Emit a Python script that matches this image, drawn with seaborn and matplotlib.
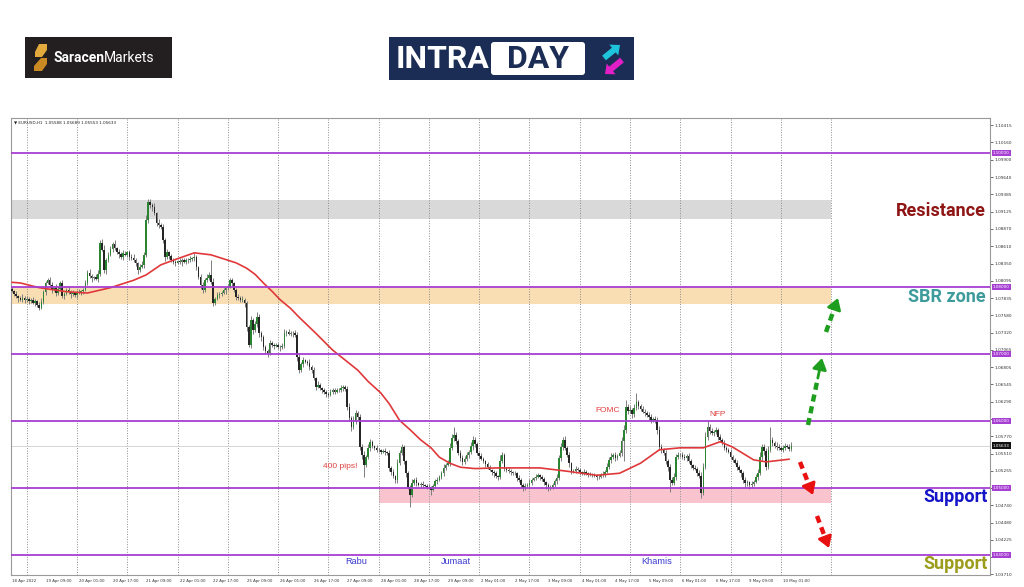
import numpy as np
import pandas as pd
import matplotlib
matplotlib.use("Agg")
import matplotlib.pyplot as plt
import seaborn as sns
from matplotlib.patches import Rectangle, Polygon, FancyBboxPatch, FancyArrow


# -----------------------------
# Data: EURUSD H1, first bar 18 Apr 2022 17:00
# prices in pips above 1.0000 (794 -> 1.0794)
# -----------------------------
FIRST_OPEN = 797

CLOSE_ROWS = [
    [794, 790, 786, 783, 781, 784, 780, 782, 779, 781, 776, 779, 773, 769, 778, 792, 806, 810, 803, 796, 799, 791, 797, 806],
    [786, 790, 796, 792, 789, 791, 788, 793, 791, 794, 796, 806, 821, 817, 813, 815, 812, 820, 866, 855, 825, 840, 848, 856],
    [864, 858, 852, 849, 845, 850, 848, 852, 845, 843, 840, 836, 825, 830, 833, 848, 900, 927, 922, 919, 910, 896, 892, 890],
    [870, 845, 852, 846, 840, 838, 836, 839, 837, 840, 838, 841, 840, 842, 843, 845, 830, 815, 803, 795, 810, 814, 818, 808],
    [776, 782, 788, 790, 791, 795, 798, 800, 810, 806, 796, 785, 783, 781, 781, 776, 740, 713, 751, 736, 745, 755, 731, 725],
    [710, 705, 701, 716, 714, 712, 713, 711, 710, 712, 731, 733, 730, 732, 731, 729, 696, 676, 685, 691, 688, 687, 680, 676],
    [664, 651, 654, 649, 646, 643, 641, 639, 643, 646, 644, 647, 646, 649, 651, 648, 621, 605, 591, 600, 612, 606, 561, 550],
    [535, 546, 560, 569, 562, 560, 557, 556, 554, 555, 553, 552, 530, 524, 518, 512, 537, 552, 561, 540, 522, 501, 490, 508],
    [512, 507, 505, 506, 504, 503, 502, 501, 497, 503, 510, 512, 516, 522, 530, 535, 537, 560, 575, 579, 570, 552, 545, 539],
    [543, 549, 554, 562, 572, 565, 552, 548, 544, 540, 536, 531, 527, 524, 522, 518, 516, 540, 549, 530, 527, 525, 524, 523],
    [522, 515, 512, 505, 500, 503, 504, 508, 512, 515, 517, 519, 516, 513, 509, 504, 502, 501, 504, 510, 515, 545, 561, 572],
    [560, 550, 537, 524, 526, 529, 527, 524, 522, 524, 522, 520, 521, 519, 518, 516, 517, 519, 521, 524, 532, 542, 547, 549],
    [545, 548, 552, 570, 587, 621, 615, 616, 610, 620, 628, 622, 618, 614, 612, 609, 606, 601, 603, 601, 587, 561, 556, 552],
    [540, 531, 512, 508, 516, 546, 549, 549, 547, 545, 548, 541, 534, 530, 529, 522, 518, 493, 531, 576, 591, 585, 582, 584],
    [587, 576, 572, 567, 560, 557, 554, 547, 542, 538, 531, 527, 522, 512, 508, 509, 504, 506, 509, 516, 522, 546, 561, 555],
    [531, 557, 572, 567, 563, 561, 559, 557, 560, 562, 561, 558.8, 563.3],
]

# wick lengths in pips above / below the candle body
UP_WICK_ROWS = [
    [3, 2, 4, 2, 3, 5, 2, 4, 3, 2, 4, 3, 2, 5, 6, 4, 3, 3, 5, 4, 3, 6, 4, 3],
    [4, 3, 2, 5, 3, 4, 2, 3, 4, 2, 3, 5, 4, 6, 3, 2, 4, 5, 4, 6, 7, 3, 4, 5],
    [3, 6, 2, 4, 3, 5, 4, 2, 3, 4, 6, 3, 2, 5, 6, 4, 7, 5, 4, 3, 6, 2, 5, 3],
    [4, 3, 5, 2, 3, 4, 3, 2, 5, 3, 4, 2, 3, 4, 2, 6, 3, 2, 5, 4, 3, 5, 4, 22],
    [5, 3, 4, 2, 3, 4, 2, 5, 3, 4, 2, 3, 4, 3, 5, 2, 3, 4, 6, 3, 5, 7, 4, 3],
    [3, 4, 2, 5, 3, 2, 4, 3, 2, 5, 6, 3, 4, 2, 3, 5, 4, 6, 3, 4, 2, 3, 5, 3],
    [4, 2, 5, 3, 2, 4, 3, 2, 5, 3, 4, 2, 3, 5, 2, 3, 4, 6, 3, 7, 4, 3, 5, 4],
    [5, 3, 6, 4, 3, 2, 4, 3, 2, 3, 4, 2, 5, 3, 4, 2, 6, 5, 4, 3, 2, 4, 3, 5],
    [3, 4, 2, 3, 5, 2, 3, 4, 2, 3, 4, 5, 3, 4, 6, 3, 5, 7, 6, 12, 4, 3, 5, 4],
    [5, 4, 3, 6, 5, 4, 3, 2, 4, 3, 2, 3, 4, 2, 3, 4, 2, 9, 4, 3, 2, 4, 3, 2],
    [3, 2, 4, 3, 2, 4, 3, 5, 3, 2, 4, 3, 2, 3, 4, 2, 3, 2, 4, 3, 6, 5, 6, 4],
    [5, 3, 4, 2, 3, 4, 2, 3, 2, 4, 3, 2, 3, 2, 4, 3, 2, 3, 4, 3, 5, 4, 5, 3],
    [4, 3, 5, 6, 7, 10, 5, 6, 4, 5, 14, 4, 3, 5, 4, 3, 4, 5, 3, 4, 5, 6, 4, 3],
    [4, 3, 5, 4, 6, 5, 4, 3, 5, 4, 3, 4, 3, 2, 4, 3, 5, 6, 7, 8, 10, 5, 4, 3],
    [4, 3, 5, 3, 4, 2, 3, 4, 2, 3, 4, 3, 2, 3, 4, 3, 2, 4, 3, 5, 6, 7, 5, 4],
    [5, 6, 19, 4, 3, 5, 4, 3, 4, 5, 3, 4, 5.6],
]
DN_WICK_ROWS = [
    [2, 4, 3, 5, 2, 3, 4, 2, 5, 3, 2, 4, 3, 3, 2, 3, 4, 2, 3, 5, 2, 4, 3, 2],
    [3, 4, 2, 3, 5, 2, 3, 4, 2, 3, 5, 2, 3, 4, 5, 3, 2, 4, 3, 2, 4, 5, 3, 2],
    [4, 3, 2, 5, 3, 4, 2, 3, 5, 2, 3, 4, 6, 3, 2, 4, 3, 5, 4, 6, 3, 5, 4, 3],
    [5, 6, 3, 4, 2, 3, 4, 2, 3, 5, 2, 3, 4, 2, 3, 4, 5, 3, 6, 4, 3, 2, 4, 3],
    [4, 3, 2, 4, 3, 2, 5, 3, 2, 4, 3, 5, 2, 3, 4, 6, 5, 3, 4, 6, 3, 4, 5, 6],
    [4, 3, 5, 2, 3, 4, 2, 3, 5, 2, 3, 4, 2, 3, 5, 4, 6, 5, 3, 4, 2, 3, 4, 5],
    [3, 4, 2, 3, 4, 2, 5, 3, 2, 3, 4, 2, 3, 2, 4, 3, 5, 4, 6, 3, 4, 5, 4, 6],
    [19, 4, 3, 5, 2, 3, 4, 2, 3, 2, 4, 3, 5, 4, 3, 5, 4, 3, 2, 4, 5, 3, 18, 4],
    [3, 4, 2, 5, 3, 2, 4, 3, 7, 2, 3, 4, 2, 3, 4, 3, 2, 4, 3, 5, 4, 3, 5, 4],
    [3, 2, 4, 3, 5, 4, 3, 5, 2, 3, 4, 3, 2, 4, 5, 3, 4, 2, 3, 4, 3, 2, 4, 3],
    [2, 4, 3, 5, 4, 3, 2, 4, 3, 2, 3, 2, 4, 3, 4, 5, 6, 4, 3, 2, 4, 3, 4, 5],
    [3, 4, 5, 3, 2, 3, 2, 4, 3, 2, 3, 4, 2, 3, 2, 4, 3, 2, 3, 4, 2, 3, 4, 3],
    [4, 3, 2, 4, 30, 5, 4, 3, 5, 4, 3, 4, 3, 2, 4, 3, 5, 4, 3, 4, 6, 5, 4, 3],
    [4, 5, 18, 4, 3, 4, 3, 2, 4, 3, 4, 3, 4, 3, 2, 4, 3, 8, 4, 3, 4, 5, 3, 4],
    [3, 4, 2, 3, 4, 3, 2, 4, 3, 2, 4, 3, 5, 4, 7, 5, 6, 4, 3, 2, 4, 3, 4, 6],
    [4, 3, 4, 5, 3, 4, 3, 2, 4, 3, 2, 3, 3.5],
]

# moving average (bar index, pips)
MA_BARS = [0, 4, 13, 26, 36, 47, 58, 64, 71, 77, 87, 95, 103, 107, 112, 116, 120, 124, 128,
           133, 137, 145, 153, 159, 165, 170, 176, 180, 185, 190, 195, 200, 204, 209, 214,
           221, 232, 252, 265, 279, 290, 300, 309, 319, 330, 338, 344, 354, 360, 371]
MA_PIPS = [807, 806, 799, 793, 791, 799, 810, 818, 833, 840, 851, 848, 840, 836, 828, 819, 806, 794, 781,
           768, 755, 731, 706, 691, 676, 659, 642, 626, 601, 587, 572, 560, 546, 537, 531,
           529, 530, 530, 525, 519, 522, 537, 557, 560, 560, 569, 561, 542, 539, 543]

X_LABELS = ["18 Apr 2022", "19 Apr 09:00", "20 Apr 01:00", "20 Apr 17:00", "21 Apr 09:00",
            "22 Apr 01:00", "22 Apr 17:00", "25 Apr 09:00", "26 Apr 01:00", "26 Apr 17:00",
            "27 Apr 09:00", "28 Apr 01:00", "28 Apr 17:00", "29 Apr 09:00", "2 May 01:00",
            "2 May 17:00", "3 May 09:00", "4 May 01:00", "4 May 17:00", "5 May 09:00",
            "6 May 01:00", "6 May 17:00", "9 May 09:00", "10 May 01:00"]
LABEL_STEP = 16          # bars between time labels
FIRST_DAY_BAR = 7        # 19 Apr 00:00
N_DAY_LINES = 17

Y_TICKS = [1.10415, 1.10160, 1.09900, 1.09640, 1.09385, 1.09125, 1.08870, 1.08610, 1.08350,
           1.08095, 1.07835, 1.07580, 1.07320, 1.07065, 1.06805, 1.06545, 1.06290, 1.06030,
           1.05770, 1.05510, 1.05255, 1.04995, 1.04740, 1.04480, 1.04225, 1.03965, 1.03710]

LEVELS = [1.10, 1.08, 1.07, 1.06, 1.05, 1.04]
ZONE_LO = [1.0902, 1.0775, 1.0478]
ZONE_HI = [1.0930, 1.0800, 1.0500]
ZONE_START = [None, None, 175]   # None = from left edge
ZONE_COLORS = ["#d9d9d9", "#f8deb2", "#fac4cf"]

HEADER = "EURUSD,H1  1.05588 1.05689 1.05553 1.05633"


# -----------------------------
# Pixel helpers (chart scale of the screenshot)
# -----------------------------
W, H = 1024, 587
AX_L, AX_R, AX_T, AX_B = 11, 990, 118, 575
PX_PER_BAR = 2.095


def bar_at(px):
    return (px - 12) / PX_PER_BAR


def price_at(py):
    return 1.10 - (py - 153) / 6700


# -----------------------------
# Build OHLC
# -----------------------------
close = 1 + np.concatenate(CLOSE_ROWS) / 10000
up = np.concatenate(UP_WICK_ROWS) / 10000
dn = np.concatenate(DN_WICK_ROWS) / 10000
n = min(len(close), len(up), len(dn))
close, up, dn = close[:n], up[:n], dn[:n]

df = pd.DataFrame({"bar": np.arange(n), "close": close})
df["open"] = np.r_[1 + FIRST_OPEN / 10000, close[:-1]]
df["high"] = np.maximum(df["open"], df["close"]) + up
df["low"] = np.minimum(df["open"], df["close"]) - dn
df["bull"] = df["close"] >= df["open"]

ma = pd.DataFrame({"bar": MA_BARS, "price": 1 + np.array(MA_PIPS) / 10000})

# -----------------------------
# Figure
# -----------------------------
sns.set_theme(style="white")
plt.rcParams["font.family"] = ["DejaVu Sans"]

fig = plt.figure(figsize=(W / 100, H / 100), dpi=100)
fig.patch.set_facecolor("white")
ax = fig.add_axes([AX_L / W, 1 - AX_B / H, (AX_R - AX_L) / W, (AX_B - AX_T) / H])
x_left, x_right = bar_at(AX_L), bar_at(AX_R)
ax.set_xlim(x_left, x_right)
ax.set_ylim(price_at(AX_B), price_at(AX_T))
ax.set_facecolor("white")
ax.grid(False)

grid_end = FIRST_DAY_BAR + 24 * (N_DAY_LINES - 1)

# zones
for lo, hi, start, col in zip(ZONE_LO, ZONE_HI, ZONE_START, ZONE_COLORS):
    x0 = x_left if start is None else start
    ax.fill_between([x0, grid_end], lo, hi, color=col, lw=0, zorder=1)

# day separators
for k in range(N_DAY_LINES):
    ax.axvline(FIRST_DAY_BAR + 24 * k, color="#8c8c8c", lw=0.7, ls=(0, (1, 1.6)), zorder=1.5)

# current price line
ax.axhline(df["close"].iloc[-1], color="#cfcfcf", lw=0.6, zorder=1.6)

# candles
ax.vlines(df["bar"], df["low"], df["high"], color="#7d7d7d", lw=0.7, zorder=3)
body_lo = np.minimum(df["open"], df["close"])
body_h = np.maximum((df["close"] - df["open"]).abs(), 0.00004)
ax.bar(df["bar"], body_h, bottom=body_lo, width=0.75, lw=0,
       color=np.where(df["bull"], "#2a8431", "#262626"), zorder=3.5)

# moving average
sns.lineplot(data=ma, x="bar", y="price", ax=ax, color="#e0383a", lw=1.2, zorder=4)

# round-number levels
for lv in LEVELS:
    ax.axhline(lv, color="#a63fd2", lw=1.3, zorder=4.5)

# axes styling
for s in ax.spines.values():
    s.set_color("#9a9a9a")
    s.set_linewidth(0.8)
ax.set_xlabel("")
ax.set_ylabel("")
ax.yaxis.tick_right()
ax.set_yticks(Y_TICKS)
# the level tags sit on top of some scale labels, as in the terminal
hidden = [min(abs(v - lv) for lv in LEVELS) < 0.0004 and v not in (1.08095, 1.07065) for v in Y_TICKS]
ax.set_yticklabels(["" if h else f"{v:.5f}" for v, h in zip(Y_TICKS, hidden)])
ax.tick_params(axis="y", labelsize=3.1, length=2, width=0.5, pad=1.5, colors="#333333")
ax.set_xticks([k * LABEL_STEP for k in range(len(X_LABELS))])
ax.set_xticklabels(X_LABELS)
for lbl in ax.get_xticklabels():
    lbl.set_ha("left")
ax.tick_params(axis="x", labelsize=2.8, length=2, width=0.5, pad=1.2, colors="#333333")

# price tags on the axis
ytr = ax.get_yaxis_transform()
for lv in LEVELS:
    ax.text(1.003, lv, f"{lv:.5f}", transform=ytr, fontsize=3, color="white", va="center", ha="left",
            bbox=dict(boxstyle="square,pad=0.3", fc="#a63fd2", ec="none"), zorder=7, clip_on=False)
ax.text(1.003, df["close"].iloc[-1], f"{df['close'].iloc[-1]:.5f}", transform=ytr, fontsize=3,
        color="white", va="center", ha="left",
        bbox=dict(boxstyle="square,pad=0.3", fc="#111111", ec="none"), zorder=7, clip_on=False)

# header
ax.text((14 - AX_L) / (AX_R - AX_L), (AX_B - 123) / (AX_B - AX_T), "\u25bc " + HEADER,
        transform=ax.transAxes, fontsize=3, color="#222222", va="center", ha="left")

# labels on the chart
big = dict(family="Roboto", fontweight="bold", fontsize=13, ha="right", va="center", zorder=8)
ax.text(bar_at(986), price_at(211), "Resistance", color="#8f1414", **big)
ax.text(bar_at(986), price_at(297), "SBR zone", color="#3e9b9b", **big)
ax.text(bar_at(988), price_at(497), "Support", color="#1414c8", **big)
ax.text(bar_at(988), price_at(564), "Support", color="#9c9c1c", **big)

small = dict(family="Liberation Sans", fontsize=6, ha="center", va="center", zorder=8)
ax.text(bar_at(340), price_at(466), "400 pips!", color="#e04040", **small)
ax.text(bar_at(608), price_at(411), "FOMC", color="#e04040", **small)
ax.text(bar_at(718), price_at(415), "NFP", color="#e04040", **small)
for px, word in [(356, "Rabu"), (456, "Jumaat"), (657, "Khamis")]:
    ax.text(bar_at(px), price_at(562), word, color="#3a3acf", **{**small, "fontsize": 6.6})


def dashed_arrow(p0, p1, color):
    x0, y0 = bar_at(p0[0]), price_at(p0[1])
    x1, y1 = bar_at(p1[0]), price_at(p1[1])
    t = 0.7
    xm, ym = x0 + (x1 - x0) * t, y0 + (y1 - y0) * t
    ax.plot([x0, xm], [y0, ym], color=color, lw=3.2, ls=(0, (1.6, 1.1)),
            solid_capstyle="butt", zorder=6)
    ax.annotate("", xy=(x1, y1), xytext=(xm, ym), zorder=6,
                arrowprops=dict(arrowstyle="-|>,head_length=0.55,head_width=0.35",
                                color=color, lw=2.0, shrinkA=0, shrinkB=0))


dashed_arrow((808, 425), (822, 358), "#1e9e1e")
dashed_arrow((826, 332), (838, 298), "#1e9e1e")
dashed_arrow((800, 462), (813, 495), "#e81010")
dashed_arrow((817, 516), (829, 548), "#e81010")

# -----------------------------
# Logos (pixel overlay)
# -----------------------------
ov = fig.add_axes([0, 0, 1, 1], zorder=-1)
ov.set_xlim(0, W)
ov.set_ylim(H, 0)
ov.axis("off")

ov.add_patch(Rectangle((25, 37), 147, 41, fc="#231f20", ec="none"))
ov.add_patch(Polygon([(39, 44), (47, 44), (47, 50), (42, 57), (35, 57), (35, 52)], fc="#e2a93c", ec="none"))
ov.add_patch(Polygon([(41, 58), (47, 58), (47, 64), (42, 71), (34, 71), (34, 66)], fc="#c98a24", ec="none"))
ov.text(54, 57.5, "Saracen", family="Roboto", fontweight="bold", fontsize=10, color="white", va="center", ha="left")
ov.text(104, 57.5, "Markets", family="Roboto", fontsize=10, color="white", va="center", ha="left")

ov.add_patch(Rectangle((389, 37), 245, 43, fc="#1b2d55", ec="none"))
ov.text(396, 59, "INTRA", family="Roboto", fontweight="bold", fontsize=23, color="white", va="center", ha="left")
ov.add_patch(FancyBboxPatch((491, 42), 94, 33, boxstyle="round,pad=0,rounding_size=3", fc="white", ec="none"))
ov.text(538, 59, "DAY", family="Roboto", fontweight="bold", fontsize=23, color="#1b2d55", va="center", ha="center")
ov.add_patch(FancyArrow(604, 58, 16, -13, width=6, head_width=14, head_length=8,
                        length_includes_head=True, fc="#1ec3dc", ec="none"))
ov.add_patch(FancyArrow(622, 60, -17, 14, width=6, head_width=14, head_length=8,
                        length_includes_head=True, fc="#e21fc6", ec="none"))

fig.savefig("out.png", dpi=100, facecolor="white")
